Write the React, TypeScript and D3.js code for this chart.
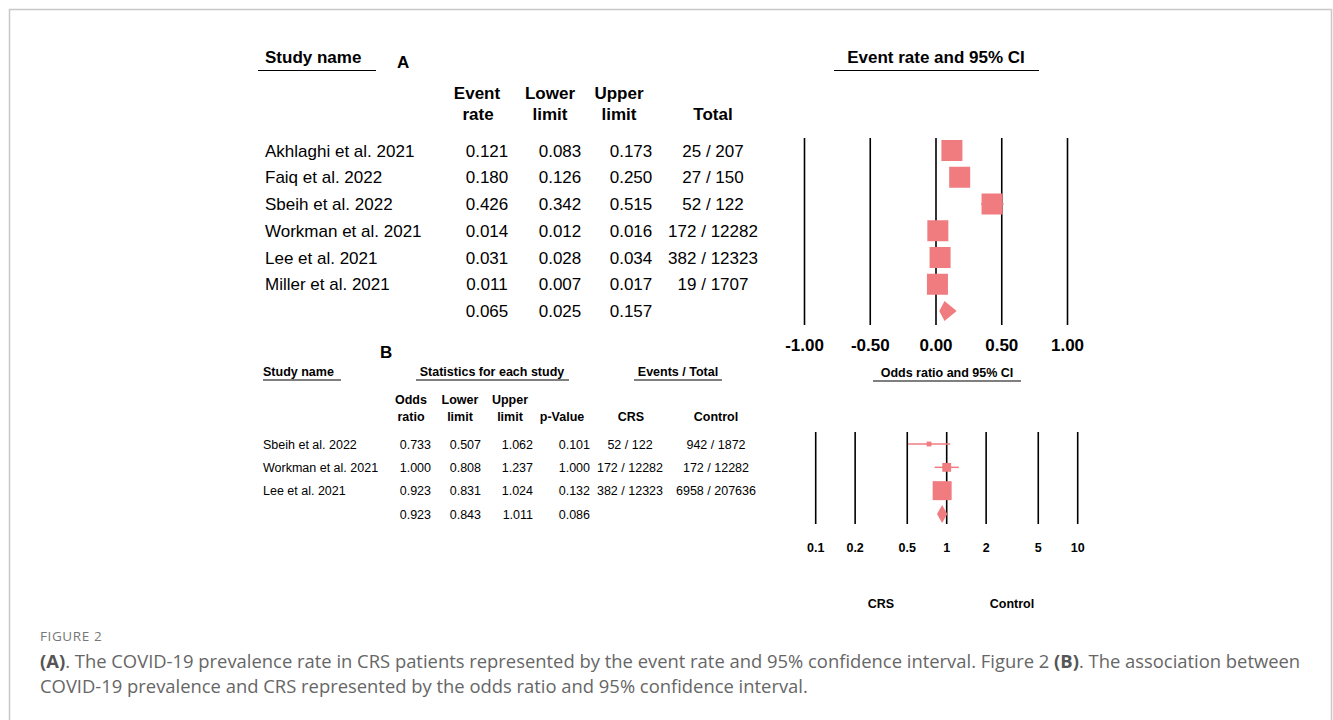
import React from "react";
import * as d3 from "d3";

// ---------- Panel A data ----------
const studiesA = [
  "Akhlaghi et al. 2021",
  "Faiq et al. 2022",
  "Sbeih et al. 2022",
  "Workman et al. 2021",
  "Lee et al. 2021",
  "Miller et al. 2021",
];
const rateA = [0.121, 0.18, 0.426, 0.014, 0.031, 0.011];
const lowerA = [0.083, 0.126, 0.342, 0.012, 0.028, 0.007];
const upperA = [0.173, 0.25, 0.515, 0.016, 0.034, 0.017];
const totalA = ["25 / 207", "27 / 150", "52 / 122", "172 / 12282", "382 / 12323", "19 / 1707"];
const pooledA = [0.065, 0.025, 0.157];
const ticksA = [-1, -0.5, 0, 0.5, 1];

// ---------- Panel B data ----------
const studiesB = ["Sbeih et al. 2022", "Workman et al. 2021", "Lee et al. 2021"];
const orB = [0.733, 1.0, 0.923];
const lowB = [0.507, 0.808, 0.831];
const upB = [1.062, 1.237, 1.024];
const pB = [0.101, 1.0, 0.132];
const crsB = ["52 / 122", "172 / 12282", "382 / 12323"];
const controlB = ["942 / 1872", "172 / 12282", "6958 / 207636"];
const weightB = [5, 17, 78];
const pooledB = [0.923, 0.843, 1.011, 0.086];
const ticksB = [0.1, 0.2, 0.5, 1, 2, 5, 10];

const FILL = "#F07C80";
const FONT = "'Liberation Sans', Arial, sans-serif";

export default function App() {
  // Panel A scales
  const xA = d3.scaleLinear().domain([-1, 1]).range([804.5, 1067.5]);
  const yA = d3.scaleLinear().domain([0, 6]).range([150.5, 311]);
  const boxA = 21;

  // Panel B scales
  const xB = d3.scaleLog().domain([0.1, 10]).range([815.7, 1077.7]);
  const yB = d3.scaleLinear().domain([0, 3]).range([444, 514]);
  const sizeB = d3.scaleSqrt().domain([0, 100]).range([0, 21.5]);

  const f3 = d3.format(".3f");
  const fTick = (t: number) => d3.format(".2f")(t).replace("\u2212", "-");

  const rowsA = studiesA.map((s, i) => ({ s, i }));
  const rowsB = studiesB.map((s, i) => ({ s, i }));

  return (
    <svg
      width={1333}
      height={720}
      style={{ position: "absolute", left: 0, top: 0, background: "#fff" }}
      fontFamily={FONT}
    >
      <rect x={0} y={0} width={1333} height={720} fill="#fff" />
      <path d="M9.5,730 V9.5 H1331.5 V730" fill="none" stroke="#c8c8c8" strokeWidth={1.5} />

      {/* ---------------- Panel A ---------------- */}
      <g fontSize={17} fill="#000">
        <text x={265} y={63} fontWeight="bold">Study name</text>
        <line x1={258} x2={376} y1={70.5} y2={70.5} stroke="#000" strokeWidth={1.2} />
        <text x={397} y={68} fontWeight="bold">A</text>

        <g fontWeight="bold" textAnchor="middle">
          <text x={477} y={99}>Event</text>
          <text x={478} y={120}>rate</text>
          <text x={550} y={99}>Lower</text>
          <text x={550} y={120}>limit</text>
          <text x={619} y={99}>Upper</text>
          <text x={619} y={120}>limit</text>
          <text x={713} y={120}>Total</text>
        </g>

        {rowsA.map(({ s, i }) => (
          <g key={s}>
            <text x={265} y={yA(i)} dy="0.36em">{s}</text>
            <text x={487} y={yA(i)} dy="0.36em" textAnchor="middle">{f3(rateA[i])}</text>
            <text x={560} y={yA(i)} dy="0.36em" textAnchor="middle">{f3(lowerA[i])}</text>
            <text x={631} y={yA(i)} dy="0.36em" textAnchor="middle">{f3(upperA[i])}</text>
            <text x={713} y={yA(i)} dy="0.36em" textAnchor="middle">{totalA[i]}</text>
          </g>
        ))}
        <text x={487} y={yA(6)} dy="0.36em" textAnchor="middle">{f3(pooledA[0])}</text>
        <text x={560} y={yA(6)} dy="0.36em" textAnchor="middle">{f3(pooledA[1])}</text>
        <text x={631} y={yA(6)} dy="0.36em" textAnchor="middle">{f3(pooledA[2])}</text>

        <text x={936} y={63} fontWeight="bold" textAnchor="middle">Event rate and 95% CI</text>
        <line x1={834} x2={1039} y1={70.5} y2={70.5} stroke="#000" strokeWidth={1.2} />

        {ticksA.map((t) => (
          <g key={t}>
            <line x1={xA(t)} x2={xA(t)} y1={138} y2={325} stroke="#000" strokeWidth={1.6} />
            <text x={xA(t)} y={351} fontWeight="bold" textAnchor="middle">{fTick(t)}</text>
          </g>
        ))}

        {rowsA.map(({ s, i }) => (
          <g key={s + "m"}>
            <line x1={xA(lowerA[i])} x2={xA(upperA[i])} y1={yA(i)} y2={yA(i)} stroke={FILL} strokeWidth={1.5} />
            <rect
              x={xA(rateA[i]) - boxA / 2}
              y={yA(i) - boxA / 2}
              width={boxA}
              height={boxA}
              fill={FILL}
            />
          </g>
        ))}
        <path
          d={`M${xA(pooledA[1])},${yA(6)} L${xA(pooledA[0])},${yA(6) - 10} L${xA(pooledA[2])},${yA(6)} L${xA(pooledA[0])},${yA(6) + 10} Z`}
          fill={FILL}
        />
      </g>

      {/* ---------------- Panel B ---------------- */}
      <g fontSize={12.5} fill="#000">
        <text x={380} y={358} fontSize={17} fontWeight="bold">B</text>
        <g fontWeight="bold">
          <text x={263} y={376}>Study name</text>
          <text x={492} y={376} textAnchor="middle">Statistics for each study</text>
          <text x={678} y={376} textAnchor="middle">Events / Total</text>
        </g>
        <line x1={263} x2={341} y1={380} y2={380} stroke="#000" strokeWidth={1.2} />
        <line x1={416} x2={569} y1={380} y2={380} stroke="#000" strokeWidth={1.2} />
        <line x1={634} x2={722} y1={380} y2={380} stroke="#000" strokeWidth={1.2} />

        <g fontWeight="bold" textAnchor="middle">
          <text x={411} y={404}>Odds</text>
          <text x={411} y={421}>ratio</text>
          <text x={460} y={404}>Lower</text>
          <text x={460} y={421}>limit</text>
          <text x={510} y={404}>Upper</text>
          <text x={510} y={421}>limit</text>
          <text x={562} y={421}>p-Value</text>
          <text x={631} y={421}>CRS</text>
          <text x={716} y={421}>Control</text>
        </g>

        {rowsB.map(({ s, i }) => (
          <g key={s}>
            <text x={263} y={yB(i)} dy="0.36em">{s}</text>
            <text x={431} y={yB(i)} dy="0.36em" textAnchor="end">{f3(orB[i])}</text>
            <text x={481} y={yB(i)} dy="0.36em" textAnchor="end">{f3(lowB[i])}</text>
            <text x={533} y={yB(i)} dy="0.36em" textAnchor="end">{f3(upB[i])}</text>
            <text x={590} y={yB(i)} dy="0.36em" textAnchor="end">{f3(pB[i])}</text>
            <text x={630} y={yB(i)} dy="0.36em" textAnchor="middle">{crsB[i]}</text>
            <text x={716} y={yB(i)} dy="0.36em" textAnchor="middle">{controlB[i]}</text>
          </g>
        ))}
        <text x={431} y={yB(3)} dy="0.36em" textAnchor="end">{f3(pooledB[0])}</text>
        <text x={481} y={yB(3)} dy="0.36em" textAnchor="end">{f3(pooledB[1])}</text>
        <text x={533} y={yB(3)} dy="0.36em" textAnchor="end">{f3(pooledB[2])}</text>
        <text x={590} y={yB(3)} dy="0.36em" textAnchor="end">{f3(pooledB[3])}</text>

        <text x={947} y={377} fontWeight="bold" textAnchor="middle">Odds ratio and 95% CI</text>
        <line x1={873} x2={1021} y1={381} y2={381} stroke="#000" strokeWidth={1.2} />

        {ticksB.map((t) => (
          <g key={t}>
            <line x1={xB(t)} x2={xB(t)} y1={432} y2={524} stroke="#000" strokeWidth={1.6} />
            <text x={xB(t)} y={552} fontWeight="bold" textAnchor="middle">{String(t)}</text>
          </g>
        ))}

        {rowsB.map(({ s, i }) => {
          const sz = sizeB(weightB[i]);
          return (
            <g key={s + "m"}>
              <line x1={xB(lowB[i])} x2={xB(upB[i])} y1={yB(i)} y2={yB(i)} stroke={FILL} strokeWidth={1.5} />
              <rect x={xB(orB[i]) - sz / 2} y={yB(i) - sz / 2} width={sz} height={sz} fill={FILL} />
            </g>
          );
        })}
        <path
          d={`M${xB(pooledB[1])},${yB(3)} L${xB(pooledB[0])},${yB(3) - 9} L${xB(pooledB[2])},${yB(3)} L${xB(pooledB[0])},${yB(3) + 9} Z`}
          fill={FILL}
        />

        <text x={881} y={608} fontWeight="bold" textAnchor="middle">CRS</text>
        <text x={1012} y={608} fontWeight="bold" textAnchor="middle">Control</text>
      </g>

      {/* ---------------- Caption ---------------- */}
      <g fontFamily="'Open Sans', 'Noto Sans', sans-serif" fill="#666">
        <text x={40} y={641} fontSize={13.5} letterSpacing={0.6} fill="#777">FIGURE 2</text>
        <text x={40} y={668} fontSize={18.4}>
          <tspan fontWeight="bold" fill="#555">(A)</tspan>
          <tspan>. The COVID-19 prevalence rate in CRS patients represented by the event rate and 95% confidence interval. Figure 2 </tspan>
          <tspan fontWeight="bold" fill="#555">(B)</tspan>
          <tspan>. The association between</tspan>
        </text>
        <text x={40} y={693} fontSize={18.4}>
          COVID-19 prevalence and CRS represented by the odds ratio and 95% confidence interval.
        </text>
      </g>
    </svg>
  );
}
